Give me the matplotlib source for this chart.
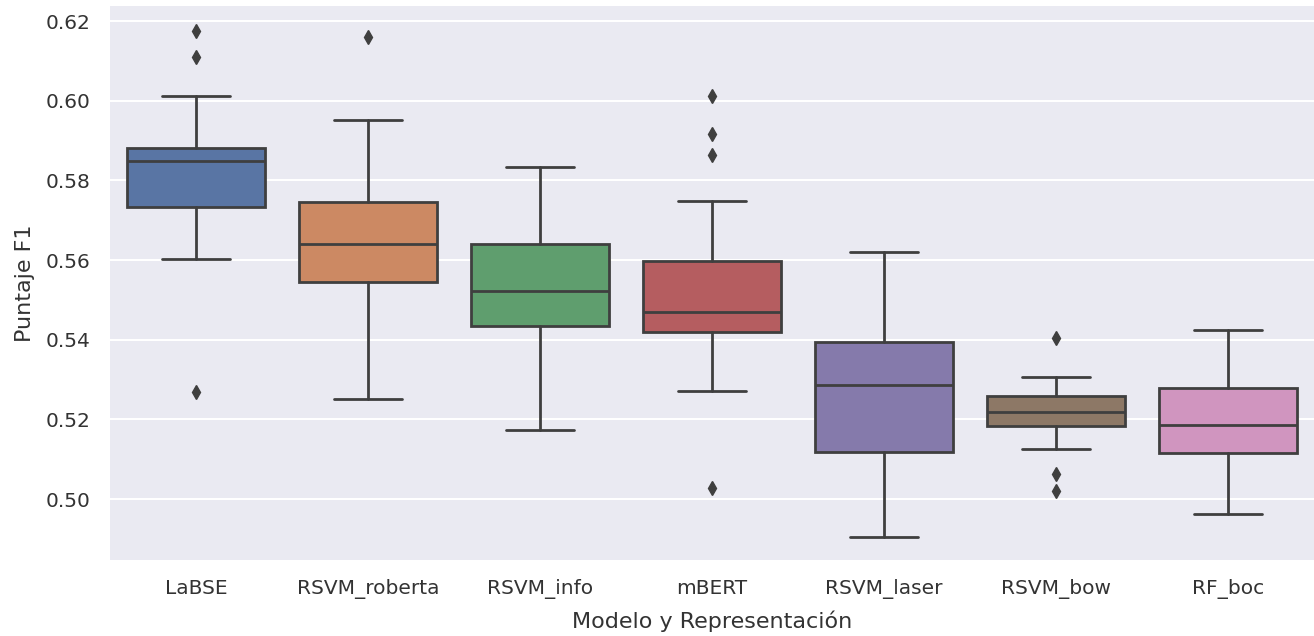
import matplotlib
matplotlib.use("Agg")
import matplotlib.pyplot as plt
import seaborn as sns

sns.set_theme(style="darkgrid")

categories = ["LaBSE", "RSVM_roberta", "RSVM_info", "mBERT", "RSVM_laser", "RSVM_bow", "RF_boc"]
whisker_low = [0.5603, 0.5251, 0.5173, 0.5272, 0.4905, 0.5126, 0.4963]
q1 = [0.5733, 0.5545, 0.5435, 0.5419, 0.5119, 0.5183, 0.5116]
median = [0.5849, 0.5640, 0.5522, 0.5470, 0.5286, 0.5219, 0.5186]
q3 = [0.5881, 0.5745, 0.5640, 0.5597, 0.5394, 0.5259, 0.5279]
whisker_high = [0.6012, 0.5953, 0.5835, 0.5749, 0.5620, 0.5306, 0.5424]
fliers = [
    [0.6174, 0.6109, 0.5270],
    [0.6161],
    [],
    [0.6011, 0.5916, 0.5863, 0.5028],
    [],
    [0.5405, 0.5064, 0.5021],
    [],
]

stats = []
for i, name in enumerate(categories):
    stats.append(dict(label=name, whislo=whisker_low[i], q1=q1[i], med=median[i],
                      q3=q3[i], whishi=whisker_high[i], fliers=fliers[i]))

colors = sns.color_palette("deep", len(categories), desat=0.75)
line_color = "#3f3f3f"
text_color = "#333333"

fig = plt.figure(figsize=(13.14, 6.36), dpi=100)
ax = fig.add_axes([110/1314, 76/636, 1 - 110/1314, (560-6)/636])

positions = list(range(len(categories)))
bp = ax.bxp(stats, positions=positions, widths=0.8, patch_artist=True,
            boxprops=dict(edgecolor=line_color, linewidth=2),
            medianprops=dict(color=line_color, linewidth=2),
            whiskerprops=dict(color=line_color, linewidth=2),
            capprops=dict(color=line_color, linewidth=2),
            flierprops=dict(marker="d", markerfacecolor=line_color, markeredgecolor=line_color,
                            markersize=7, linestyle="none"),
            capwidths=0.4)
for patch, c in zip(bp["boxes"], colors):
    patch.set_facecolor(c)

ax.set_xlim(-0.5, len(categories) - 0.5)
ax.set_ylim(0.4847, 0.6238)
yt = [0.50, 0.52, 0.54, 0.56, 0.58, 0.60, 0.62]
ax.set_yticks(yt)
ax.set_yticklabels([f"{v:.2f}" for v in yt])
ax.set_xticks(positions)
ax.set_xticklabels(categories)
ax.xaxis.grid(False)
ax.yaxis.grid(True, color="white", linewidth=1.5)
ax.tick_params(axis="both", labelsize=14.5, colors=text_color, pad=8)
ax.set_xlabel("Modelo y Representación", fontsize=16, color=text_color, labelpad=8)
ax.set_ylabel("Puntaje F1", fontsize=16, color=text_color, labelpad=8)
for s in ax.spines.values():
    s.set_visible(False)

fig.savefig("out.png", dpi=100)
